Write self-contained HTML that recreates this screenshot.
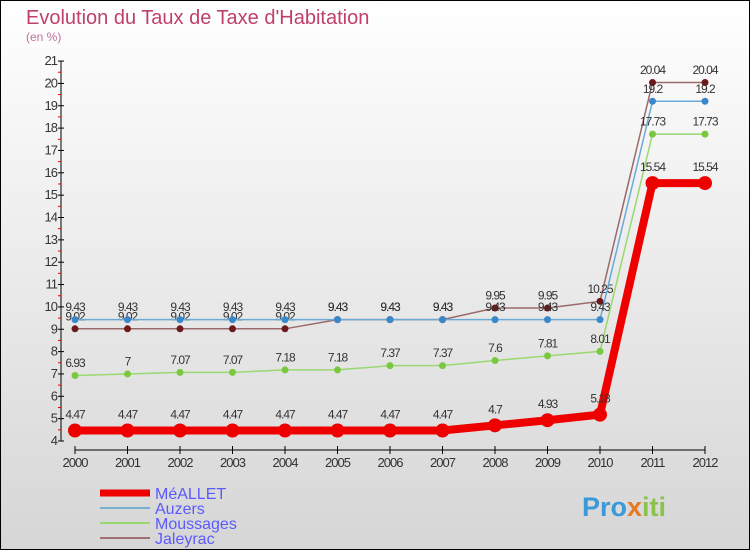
<!DOCTYPE html>
<html><head><meta charset="utf-8"><style>
body{margin:0}
#c{width:750px;height:550px;position:relative;box-sizing:border-box;border:1px solid #000;background:linear-gradient(#ffffff,#d6d6d6);font-family:"Liberation Sans",sans-serif;overflow:hidden}
</style></head><body>
<div id="c">
<svg id="s" width="750" height="550" style="position:absolute;left:-1px;top:-1px">
<text x="26" y="24" font-size="20" fill="#c0406a">Evolution du Taux de Taxe d'Habitation</text>
<text x="26" y="41" font-size="12" fill="#c070a0">(en %)</text>
<g id="axes"></g><g id="series"></g><g id="legend"></g>
<text x="582" y="516" font-size="27" font-weight="bold" fill="#3a9ad9">Pro<tspan fill="#e87a20">x</tspan><tspan fill="#8bc34a">iti</tspan></text>
</svg>
</div>
<script>
const years=[2000,2001,2002,2003,2004,2005,2006,2007,2008,2009,2010,2011,2012];
const yTicks=[4,5,6,7,8,9,10,11,12,13,14,15,16,17,18,19,20,21];
const meallet=[4.47,4.47,4.47,4.47,4.47,4.47,4.47,4.47,4.7,4.93,5.18,15.54,15.54];
const auzers=[9.43,9.43,9.43,9.43,9.43,9.43,9.43,9.43,9.43,9.43,9.43,19.2,19.2];
const moussages=[6.93,7,7.07,7.07,7.18,7.18,7.37,7.37,7.6,7.81,8.01,17.73,17.73];
const jaleyrac=[9.02,9.02,9.02,9.02,9.02,9.43,9.43,9.43,9.95,9.95,10.25,20.04,20.04];
const seriesNames=["MéALLET","Auzers","Moussages","Jaleyrac"];
const NS="http://www.w3.org/2000/svg";
const X=i=>75+i*52.5, Y=v=>441-(v-4)*22.35;
function mk(p,t,a){const e=document.createElementNS(NS,t);for(const k in a)e.setAttribute(k,a[k]);p.appendChild(e);return e;}
const ax=document.getElementById('axes');
let l=mk(ax,'line',{x1:61,y1:Y(21),x2:61,y2:Y(4),stroke:'#000'});

l=mk(ax,'line',{x1:X(0),y1:450,x2:X(12),y2:450,stroke:'#000'});

yTicks.forEach(v=>{mk(ax,'line',{x1:58,y1:Y(v),x2:64,y2:Y(v),stroke:'#000'});
 if(v<21)mk(ax,'line',{x1:58,y1:Y(v+0.5),x2:61,y2:Y(v+0.5),stroke:'#e00'});
 const t=mk(ax,'text',{x:57,y:Y(v)+4,'font-size':13,'text-anchor':'end',fill:'#333','letter-spacing':'-1'});t.textContent=v;
 });
years.forEach((y,i)=>{mk(ax,'line',{x1:X(i),y1:446,x2:X(i),y2:454,stroke:'#000'});
 const t=mk(ax,'text',{x:X(i),y:467,'font-size':13,'text-anchor':'middle',fill:'#333','letter-spacing':'-1'});t.textContent=y;
 });
const sg=document.getElementById('series');
function draw(vals,color,dot,w,r,name){
 const g=mk(sg,'g',{});
 mk(g,'polyline',{points:vals.map((v,i)=>X(i)+','+Y(v)).join(' '),fill:'none',stroke:color,'stroke-width':w});
 vals.forEach((v,i)=>{const c=mk(g,'circle',{cx:X(i),cy:Y(v),r:r,fill:dot});
  
  const t=mk(g,'text',{x:X(i),y:Y(v)-(r+5),'font-size':12,'text-anchor':'middle',fill:'#333','letter-spacing':'-1'});t.textContent=v;
  });
}
draw(jaleyrac,'#9a6a6a','#6a1a1a',1.5,3.5,'jaleyrac-series');
draw(auzers,'#6aaad8','#3a88c8',1.5,3.5,'auzers-series');
draw(moussages,'#9ad870','#7ac840',1.5,3.5,'moussages-series');
draw(meallet,'#ee0000','#ee0000',8,7,'meallet-series');
const lg=document.getElementById('legend');
const lc=['#ee0000','#7aaed0','#9ad870','#a07070'],lw=[7,2,2,2];
seriesNames.forEach((n,i)=>{const y=493+i*15;
 mk(lg,'line',{x1:100,y1:y,x2:150,y2:y,stroke:lc[i],'stroke-width':lw[i]});
 const t=mk(lg,'text',{x:155,y:y+6,'font-size':16,fill:'#5a5aff'});t.textContent=n;
 });
</script>
</body></html>
